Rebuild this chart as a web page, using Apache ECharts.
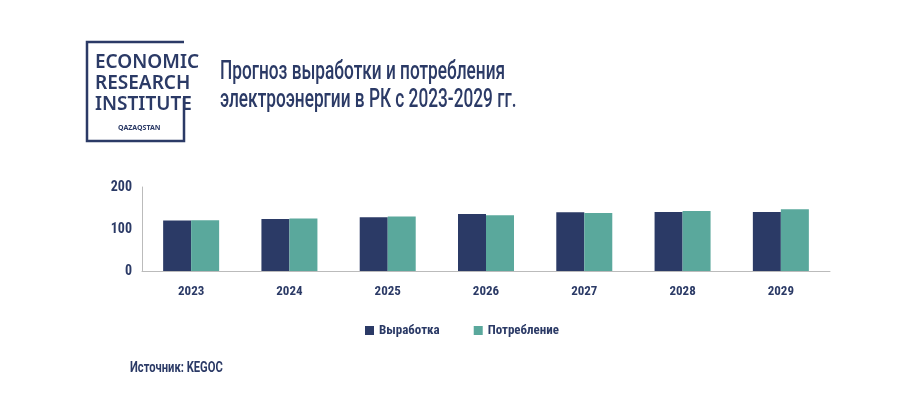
<!DOCTYPE html><html><head><meta charset="utf-8"><script src="https://cdn.jsdelivr.net/npm/echarts@6/dist/echarts.min.js"></script>
<style>html,body{margin:0;background:#fff}#c{width:924px;height:414px}</style></head><body><div id="c"></div><script>
const years=['2023','2024','2025','2026','2027','2028','2029'];
const production=[120,124,128,136,140,140.5,140.5];
const consumption=[121,125,130,133,138,143,147];
const yTicks=[0,100,200];
const C='#2b3a66',T='#5aa89c',F='"Roboto Condensed","DejaVu Sans Condensed",Roboto,sans-serif';
const ch=echarts.init(document.getElementById('c'));
ch.setOption({animation:false,
grid:{left:142,right:94,top:187,bottom:143},
legend:{top:319,left:'center',itemWidth:9,itemHeight:9,itemGap:34,icon:'rect',textStyle:{color:C,fontFamily:F,fontSize:13,fontWeight:'bold'}},
xAxis:{type:'category',data:years,axisLine:{lineStyle:{color:'#bbb'}},axisTick:{lineStyle:{color:'#bbb'}},axisLabel:{color:C,fontFamily:F,fontSize:13,fontWeight:'bold',margin:14}},
yAxis:{type:'value',min:0,max:200,interval:100,splitLine:{show:false},axisLine:{show:true,lineStyle:{color:'#bbb'}},axisLabel:{color:C,fontFamily:F,fontSize:14,fontWeight:'bold',margin:10,formatter:v=>yTicks.includes(v)?String(v):''}},
series:[{name:'Выработка',type:'bar',data:production,barWidth:28,barGap:'0%',itemStyle:{color:C}},
{name:'Потребление',type:'bar',data:consumption,barWidth:28,itemStyle:{color:T}}],
graphic:[
{type:'polyline',shape:{points:[[184,98],[184,141],[87,141],[87,42],[184,42]]},style:{stroke:C,lineWidth:2.5,fill:null}},
{type:'text',x:95,y:52,style:{text:'ECONOMIC\nRESEARCH\nINSTITUTE',fill:C,font:'600 19px "Noto Sans",sans-serif',lineHeight:21}},
{type:'text',x:118,y:124,style:{text:'QAZAQSTAN',fill:C,font:'bold 7px "Noto Sans",sans-serif'}},
{type:'text',x:220,y:59,scaleX:0.69,style:{text:'Прогноз выработки и потребления\nэлектроэнергии в РК с 2023-2029 гг.',fill:C,font:'500 25px Roboto,sans-serif',lineHeight:28}},
{type:'text',x:130,y:361,scaleX:0.8,style:{text:'Источник: KEGOC',fill:C,font:'bold 14px Roboto,sans-serif'}}
]});
</script></body></html>
